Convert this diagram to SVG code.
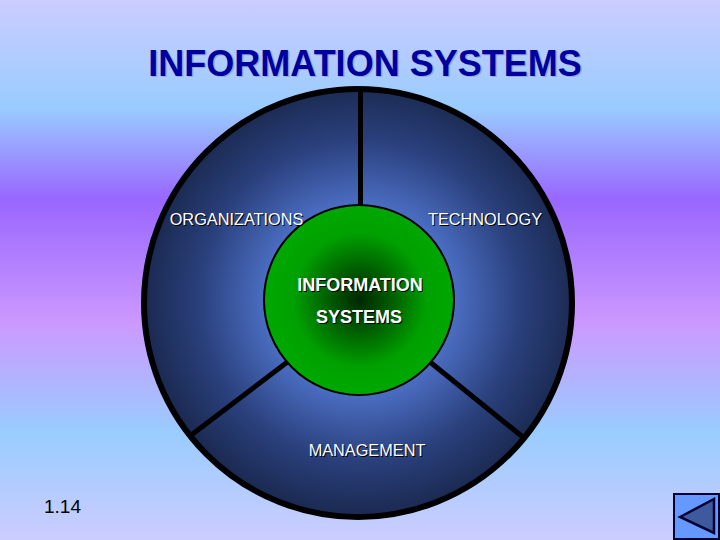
<svg xmlns="http://www.w3.org/2000/svg" width="720" height="540" viewBox="0 0 720 540">
<defs>
<linearGradient id="bg" x1="0" y1="0" x2="0" y2="1">
<stop offset="0" stop-color="#ccccff"/><stop offset="0.2" stop-color="#99ccff"/><stop offset="0.37" stop-color="#9966ff"/><stop offset="0.6" stop-color="#cc99ff"/><stop offset="0.8" stop-color="#99ccff"/><stop offset="1" stop-color="#ccccff"/>
</linearGradient>
<radialGradient id="disc" gradientUnits="userSpaceOnUse" cx="360" cy="300" r="215">
<stop offset="0" stop-color="#5a85e0"/><stop offset="0.45" stop-color="#4a6cc0"/><stop offset="0.75" stop-color="#2a407c"/><stop offset="1" stop-color="#1b2a52"/>
</radialGradient>
<radialGradient id="hub" gradientUnits="userSpaceOnUse" cx="360" cy="300" r="95">
<stop offset="0" stop-color="#002800"/><stop offset="0.25" stop-color="#004f00"/><stop offset="0.7" stop-color="#00a000"/><stop offset="1" stop-color="#00a800"/>
</radialGradient>
</defs>
<style>
text{font-family:"Liberation Sans",Arial,sans-serif}
.lab{font-size:16.300px;text-anchor:middle}
.b{font-weight:bold;font-size:18px}
.w{fill:#fff}.s{fill:#000}
.ln{stroke:#000;stroke-width:5;fill:none}
</style>
<rect width="720" height="540" fill="url(#bg)"/>
<g id="title" font-size="36" font-weight="bold" text-anchor="middle">
<text x="366.500" y="76.500" fill="#99a6d8">INFORMATION SYSTEMS</text>
<text x="365" y="75.500" fill="#0000a0">INFORMATION SYSTEMS</text>
</g>
<g id="disc"><circle cx="358" cy="303" r="214" fill="url(#disc)" stroke="#000" stroke-width="6"/></g>
<g id="connectors">
<line class="ln" x1="360.500" y1="90" x2="360.500" y2="206"/>
<line class="ln" x1="190" y1="436" x2="290" y2="360"/>
<line class="ln" x1="524" y1="438" x2="430" y2="362"/>
</g>
<g id="hub"><circle cx="359" cy="300" r="95" fill="url(#hub)" stroke="#000" stroke-width="2"/></g>
<g id="labels">
<text class="lab s" x="237.500" y="226">ORGANIZATIONS</text><text class="lab w" x="236.500" y="225">ORGANIZATIONS</text>
<text class="lab s" x="486" y="226">TECHNOLOGY</text><text class="lab w" x="485" y="225">TECHNOLOGY</text>
<text class="lab b s" x="361" y="292">INFORMATION</text><text class="lab b w" x="360" y="291">INFORMATION</text>
<text class="lab b s" x="360" y="324">SYSTEMS</text><text class="lab b w" x="359" y="323">SYSTEMS</text>
<text class="lab s" x="368" y="457">MANAGEMENT</text><text class="lab w" x="367" y="456">MANAGEMENT</text>
</g>
<text id="page" x="62.500" y="513" font-size="19" text-anchor="middle" fill="#000">1.14</text>
<g id="nav">
<rect x="674" y="494" width="45" height="45" fill="#6699ff" stroke="#000033" stroke-width="2"/>
<polygon points="680,517 714,499 714,533" fill="#3d5a9e" stroke="#000033" stroke-width="2.500"/>
</g>
</svg>
